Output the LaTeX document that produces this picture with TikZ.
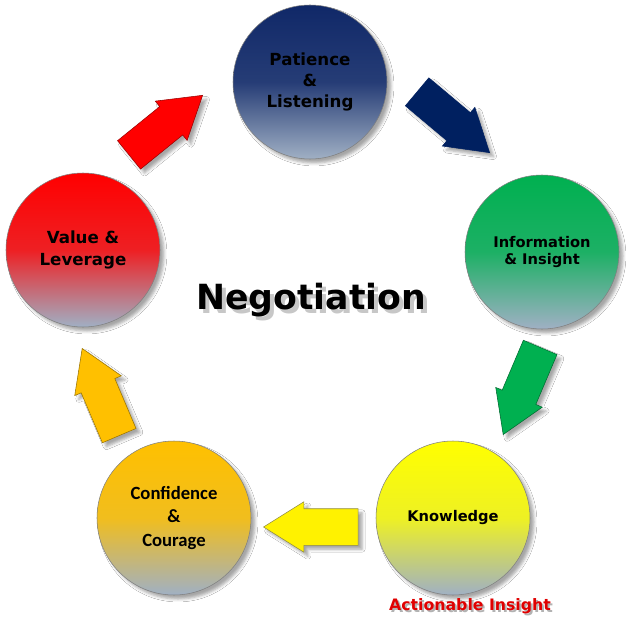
\documentclass[tikz,border=0pt]{standalone}
\usepackage{fontspec}
\setmainfont{DejaVu Sans}
\newfontfamily\calibfont{Carlito}
\usetikzlibrary{shapes.arrows,shadows.blur}

\definecolor{navyblue}{RGB}{0,32,96}
\definecolor{patblue}{RGB}{16,40,104}
\definecolor{offgreen}{RGB}{0,176,80}
\definecolor{offgold}{RGB}{255,192,0}
\definecolor{steel}{RGB}{160,176,196}
\definecolor{actred}{RGB}{224,0,0}

\tikzset{
  ball/.style={circle, draw=black!50, line width=0.4pt, minimum size=115.5pt,
    inner sep=0pt, align=center, bottom color=steel,
    blur shadow={shadow xshift=3pt, shadow yshift=-3pt, shadow opacity=35}},
  bigarrow/.style={single arrow, anchor=tip, line width=0.4pt, minimum height=71pt,
    inner xsep=0pt, inner ysep=13.5pt, single arrow head extend=5.25pt,
    single arrow tip angle=64,
    blur shadow={shadow xshift=3pt, shadow yshift=-3pt, shadow opacity=35}},
  bigtext/.style={font=\bfseries\fontsize{12.5}{16}\selectfont},
  smalltext/.style={font=\bfseries\fontsize{11}{13}\selectfont},
  notetext/.style={font=\bfseries\fontsize{11.8}{13}\selectfont},
  titletext/.style={font=\bfseries\fontsize{26}{30}\selectfont}
}

\begin{document}
\begin{tikzpicture}[x=0.75pt,y=-0.75pt]
  \useasboundingbox[fill=white] (0,0) rectangle (638,624);

  % stages
  \node[ball, bigtext, top color=patblue, middle color=patblue!85!steel] (patience) at (310,82) {Patience\\\&\\Listening};
  \node[ball, smalltext, top color=offgreen, middle color=offgreen!82!steel] (info) at (542,252) {Information\\\& Insight};
  \node[ball, smalltext, top color=yellow, middle color=yellow!82!steel] (know) at (453,518) {Knowledge};
  \node[ball, top color=offgold, middle color=offgold!85!steel,
    font=\calibfont\bfseries\fontsize{14}{17.5}\selectfont] (conf) at (174,518) {Confidence\\\&\\Courage};
  \node[ball, bigtext, top color=red, middle color=red!82!steel] (value) at (83,250) {Value \&\\Leverage};

  % arrows between stages (placed by their tips)
  \node[bigarrow, fill=navyblue, draw=navyblue, rotate=-40] (a1) at (490,153) {};
  \node[bigarrow, fill=offgreen, draw=offgreen!60!black, rotate=247] (a2) at (503,435) {};
  \node[bigarrow, fill=yellow, draw=yellow!50!black, rotate=180] (a3) at (263,527) {};
  \node[bigarrow, fill=offgold, draw=offgold!60!black, rotate=113] (a4) at (82,348) {};
  \node[bigarrow, fill=red, draw=red!60!black, rotate=39] (a5) at (203,95) {};

  % title
  \node[titletext, text=black!22] (tshadow) at (315,304) {Negotiation};
  \node[titletext] (title) at (311,300) {Negotiation};

  % note
  \node[notetext, text=black!30] (nshadow) at (472,608) {Actionable Insight};
  \node[notetext, text=actred] (note) at (470,606) {Actionable Insight};
\end{tikzpicture}
\end{document}
